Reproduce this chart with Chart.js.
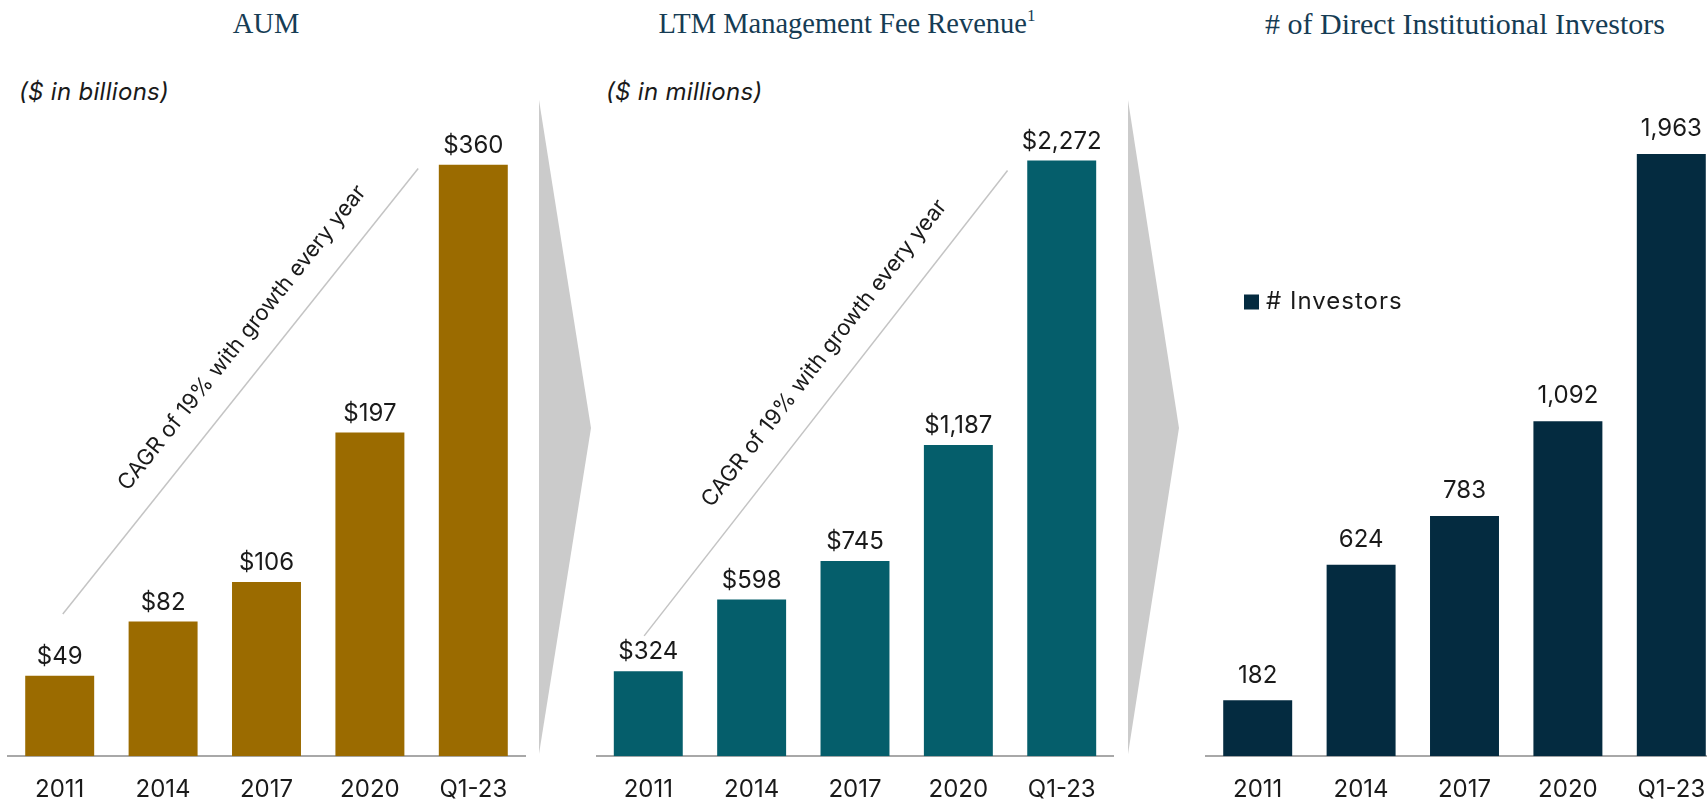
<!DOCTYPE html>
<html>
<head>
<meta charset="utf-8">
<title>AUM, Fee Revenue and Investors</title>
<script src="https://cdn.jsdelivr.net/npm/chart.js@4.4.0/dist/chart.umd.min.js"></script>
<style>
  html, body { margin: 0; padding: 0; background: #fff; width: 1707px; height: 802px; overflow: hidden; }
  body { position: relative; }
  .title { position: absolute; top: 6px; font-family: "Liberation Serif", serif; font-size: 30px; line-height: 36px;
           color: #163c54; transform: translateX(-50%); white-space: nowrap; }
  .title sup { font-size: 17px; line-height: 1; vertical-align: top; position: relative; top: 1px; }
  .unit { position: absolute; top: 78px; font-family: Inter, sans-serif; font-style: italic; font-size: 24px;
          letter-spacing: 0.3px; line-height: 28px; color: #1a1a1a; white-space: nowrap; }
  canvas { position: absolute; top: 0; }
  svg { position: absolute; left: 0; top: 0; }
</style>
</head>
<body>

<svg width="1707" height="802">
  <polygon points="539,100 591,428 539,754" fill="#cbcbcb" />
  <polygon points="1128,100 1179,428 1128,754" fill="#cbcbcb" />
</svg>

<div class="title" style="left:266px; font-size:28.5px">AUM</div>
<div class="title" style="left:847px; font-size:28.5px">LTM Management Fee Revenue<sup>1</sup></div>
<div class="title" style="left:1465px"># of Direct Institutional Investors</div>

<div class="unit" style="left:19px">($ in billions)</div>
<div class="unit" style="left:606px">($ in millions)</div>

<canvas id="aumChart" width="545" height="823" style="left:0px"></canvas>
<canvas id="feeChart" width="580" height="823" style="left:560px"></canvas>
<canvas id="investorChart" width="600" height="823" style="left:1150px"></canvas>

<script>
// Data
const years = ['2011', '2014', '2017', '2020', 'Q1-23'];
const aumValues = [49, 82, 106, 197, 360];
const feeValues = [324, 598, 745, 1187, 2272];
const investorValues = [182, 624, 783, 1092, 1963];
const investorLabel = '# Investors';
const cagrText = 'CAGR of 19% with growth every year';

Chart.defaults.font.family = 'Inter, sans-serif';
Chart.defaults.color = '#1a1a1a';

// Value labels above bars
const valueLabels = {
  id: 'valueLabels',
  afterDatasetsDraw(chart, args, opts) {
    const ctx = chart.ctx;
    const values = chart.data.datasets[0].data;
    ctx.save();
    ctx.font = '24px Inter, sans-serif';
    ctx.fillStyle = '#1a1a1a';
    ctx.textAlign = 'center';
    ctx.textBaseline = 'middle';
    chart.getDatasetMeta(0).data.forEach((bar, i) => {
      ctx.fillText(opts.prefix + values[i].toLocaleString('en-US'), bar.x, bar.y - opts.gap);
    });
    ctx.restore();
  }
};

// Diagonal CAGR line with rotated caption
const cagrLine = {
  id: 'cagrLine',
  afterDatasetsDraw(chart, args, opts) {
    const { x, y } = chart.scales;
    const x1 = x.getPixelForValue(opts.from[0]), y1 = y.getPixelForValue(opts.from[1]);
    const x2 = x.getPixelForValue(opts.to[0]), y2 = y.getPixelForValue(opts.to[1]);
    const ctx = chart.ctx;
    ctx.save();
    ctx.strokeStyle = '#c4c4c4';
    ctx.lineWidth = 1.5;
    ctx.beginPath();
    ctx.moveTo(x1, y1);
    ctx.lineTo(x2, y2);
    ctx.stroke();

    const len = Math.hypot(x2 - x1, y2 - y1);
    const ux = (x2 - x1) / len, uy = (y2 - y1) / len;
    const cx = x1 + ux * len * opts.at + uy * 32;
    const cy = y1 + uy * len * opts.at - ux * 32;
    ctx.translate(cx, cy);
    ctx.rotate(Math.atan2(uy, ux));
    ctx.font = '22px Inter, sans-serif';
    ctx.fillStyle = '#1a1a1a';
    ctx.textAlign = 'center';
    ctx.textBaseline = 'middle';
    ctx.fillText(cagrText, 0, 0);
    ctx.restore();
  }
};

// Single legend entry placed inside the plot
const boxLegend = {
  id: 'boxLegend',
  afterDraw(chart, args, opts) {
    const ctx = chart.ctx;
    ctx.save();
    ctx.fillStyle = chart.data.datasets[0].backgroundColor;
    ctx.fillRect(opts.x, opts.y - 7.5, 15, 15);
    ctx.font = '24px Inter, sans-serif';
    ctx.letterSpacing = '1px';
    ctx.fillStyle = '#1a1a1a';
    ctx.textBaseline = 'middle';
    ctx.fillText(chart.data.datasets[0].label, opts.x + 22, opts.y);
    ctx.restore();
  }
};

function makeChart(id, label, values, color, yMax, pad, extraPlugins, pluginOpts) {
  return new Chart(document.getElementById(id), {
    type: 'bar',
    data: {
      labels: years,
      datasets: [{
        label: label,
        data: values,
        backgroundColor: color,
        barPercentage: 0.667,
        categoryPercentage: 1
      }]
    },
    options: {
      responsive: false,
      animation: false,
      layout: { padding: pad },
      scales: {
        x: {
          grid: { display: false, drawTicks: false },
          border: { display: true, color: '#a8a8a8', width: 2 },
          ticks: { padding: 19, color: '#1a1a1a', font: { size: 24 } }
        },
        y: { display: false, min: 0, max: yMax }
      },
      plugins: Object.assign({
        legend: { display: false },
        tooltip: { enabled: false }
      }, pluginOpts)
    },
    plugins: [valueLabels].concat(extraPlugins)
  });
}

makeChart('aumChart', 'AUM', aumValues, '#9b6b00', 387.2,
  { left: 8, right: 20, top: 120, bottom: 0 }, [cagrLine], {
    valueLabels: { prefix: '$', gap: 19 },
    cagrLine: { from: [0.03, 86.6], to: [3.467, 357.7], at: 0.575 }
  });

makeChart('feeChart', 'LTM Management Fee Revenue', feeValues, '#055e6b', 2426.7,
  { left: 36.6, right: 26.6, top: 120, bottom: 0 }, [cagrLine], {
    valueLabels: { prefix: '$', gap: 19 },
    cagrLine: { from: [-0.04, 459], to: [3.476, 2234], at: 0.565 }
  });

makeChart('investorChart', investorLabel, investorValues, '#042b40', 2073.6,
  { left: 56, right: 27, top: 120, bottom: 0 }, [boxLegend], {
    valueLabels: { prefix: '', gap: 25 },
    boxLegend: { x: 94, y: 302 }
  });
</script>
</body>
</html>
